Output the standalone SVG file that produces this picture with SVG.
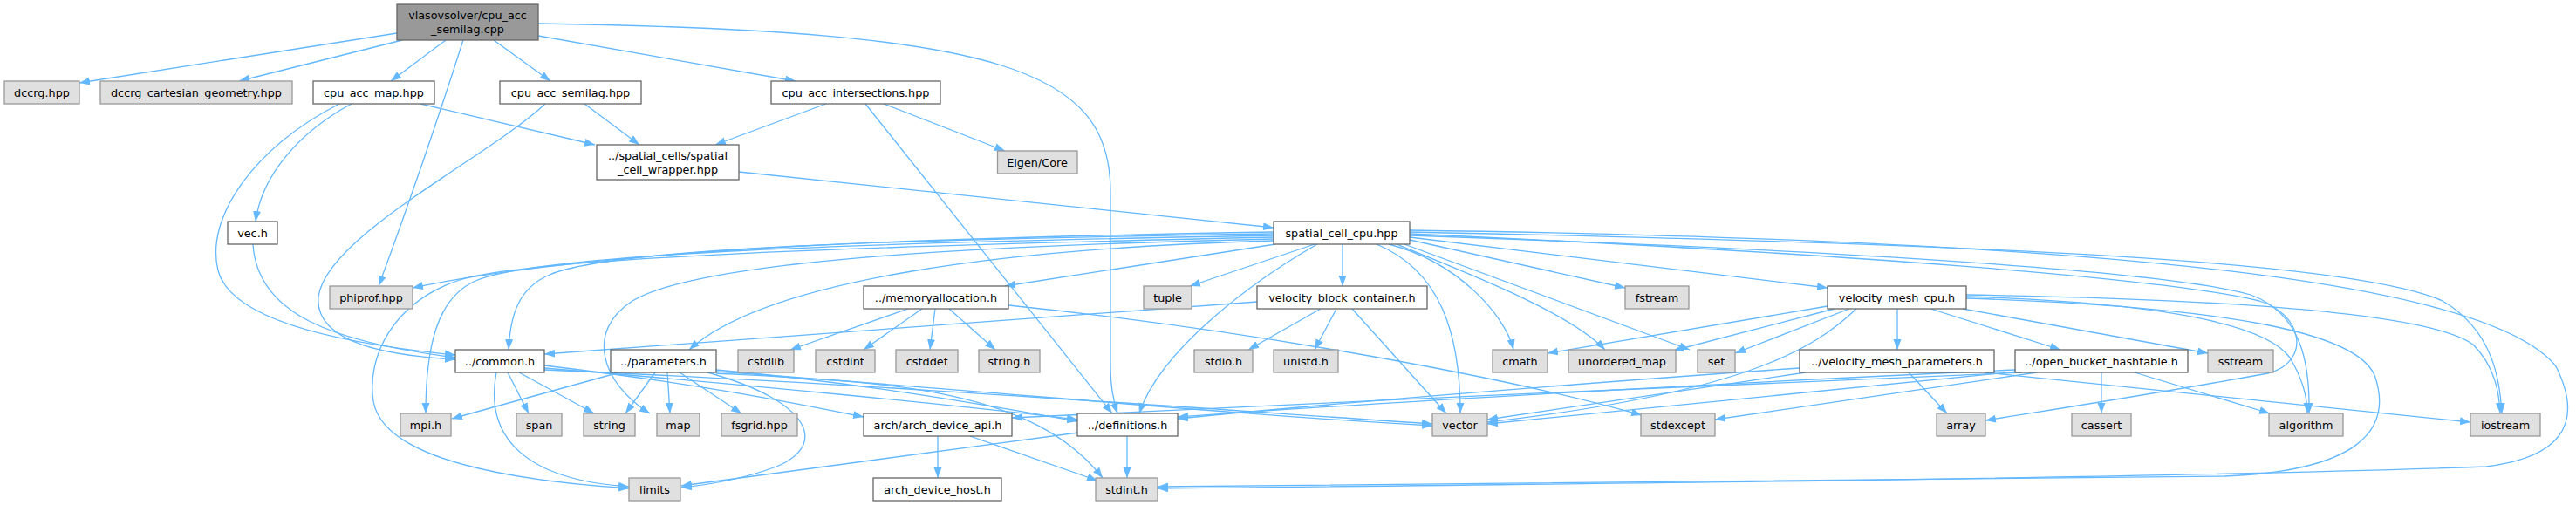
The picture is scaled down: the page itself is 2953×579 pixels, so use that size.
<svg xmlns="http://www.w3.org/2000/svg" width="2953" height="579" viewBox="0 0 2953 579">
<defs>
<marker id="ah" markerUnits="userSpaceOnUse" markerWidth="13" markerHeight="10" refX="12" refY="4.5" orient="auto">
<path d="M0,0 L12,4.5 L0,9 z" fill="#63b8ff"/>
</marker>
</defs>
<style>
.e{fill:none;stroke:#63b8ff;stroke-width:1.3;marker-end:url(#ah)}
.w rect{fill:#ffffff;stroke:#666666;stroke-width:1.3}
.g rect{fill:#e0e0e0;stroke:#999999;stroke-width:1.3}
.r rect{fill:#999999;stroke:#666666;stroke-width:1.3}
text{font-family:"DejaVu Sans",sans-serif;font-size:12.8px;fill:#000000;text-anchor:middle}
</style>
<rect width="2953" height="579" fill="#ffffff"/>
<g id="connectors">
<path class="e" d="M455,38 L91,95"/>
<path class="e" d="M461,46 L274,93"/>
<path class="e" d="M511,46 L448,93"/>
<path class="e" d="M531,46 Q485,190 434,328"/>
<path class="e" d="M566,46 L631,93"/>
<path class="e" d="M617,41 L912,93"/>
<path class="e" d="M617,27 C1150,35 1273,80 1273,220 L1273,420 Q1273,450 1281,474"/>
<path class="e" d="M482,119 L682,166"/>
<path class="e" d="M403,119 C345,150 300,200 293,254"/>
<path class="e" d="M389,119 C290,170 235,250 250,310 C265,370 400,395 522,407"/>
<path class="e" d="M670,119 L733,166"/>
<path class="e" d="M625,119 C560,180 375,270 365,340 C360,395 450,408 522,412"/>
<path class="e" d="M947,119 L820,166"/>
<path class="e" d="M1013,119 L1152,173"/>
<path class="e" d="M992,119 L1275,474"/>
<path class="e" d="M847,197 L1460,261"/>
<path class="e" d="M290,280 C295,360 380,392 522,410"/>
<path class="e" d="M1460,266 C1100,272 700,282 473,330"/>
<path class="e" d="M1460,268 C1000,275 700,285 630,315 C595,330 585,360 583,401"/>
<path class="e" d="M1460,270 C1000,278 620,290 545,322 C500,342 488,400 488,474"/>
<path class="e" d="M1460,272 C1000,282 620,295 530,320 C450,345 420,410 428,460 C440,530 600,552 721,560"/>
<path class="e" d="M1460,274 C1100,282 800,300 725,345 C670,380 690,440 745,474"/>
<path class="e" d="M1460,276 C1150,285 880,320 790,401"/>
<path class="e" d="M1462,280 L1152,328"/>
<path class="e" d="M1507,280 L1364,328"/>
<path class="e" d="M1539,280 L1539,328"/>
<path class="e" d="M1510,280 C1440,320 1330,400 1306,474"/>
<path class="e" d="M1578,280 C1650,310 1674,380 1674,474"/>
<path class="e" d="M1592,280 C1670,300 1725,360 1735,401"/>
<path class="e" d="M1601,280 C1700,320 1800,360 1840,401"/>
<path class="e" d="M1610,280 L1937,401"/>
<path class="e" d="M1616,275 L1863,330"/>
<path class="e" d="M1616,272 L2095,330"/>
<path class="e" d="M1616,270 C2200,290 2500,315 2580,338 C2640,360 2648,420 2647,474"/>
<path class="e" d="M1616,266 C2300,280 2700,300 2800,345 C2860,380 2866,440 2868,474"/>
<path class="e" d="M1616,264 C2400,275 2850,320 2930,420 C2965,490 2930,525 2850,535 C2500,548 1800,555 1327,560"/>
<path class="e" d="M1616,268 C2100,290 2480,318 2590,345 C2640,360 2650,415 2600,428 C2450,455 2350,470 2276,482"/>
<path class="e" d="M1441,346 L624,406"/>
<path class="e" d="M1514,354 L1431,401"/>
<path class="e" d="M1532,354 L1507,401"/>
<path class="e" d="M1550,354 L1658,474"/>
<path class="e" d="M1041,354 L906,401"/>
<path class="e" d="M1057,354 L990,401"/>
<path class="e" d="M1072,354 L1066,401"/>
<path class="e" d="M1088,354 L1141,401"/>
<path class="e" d="M1156,350 C1400,375 1700,425 1882,476"/>
<path class="e" d="M582,427 L606,474"/>
<path class="e" d="M595,427 L681,474"/>
<path class="e" d="M569,427 C555,500 600,550 721,558"/>
<path class="e" d="M624,419 C800,440 900,460 990,478"/>
<path class="e" d="M624,422 C850,440 1100,465 1235,481"/>
<path class="e" d="M624,424 C1000,440 1400,470 1642,486"/>
<path class="e" d="M710,427 L518,480"/>
<path class="e" d="M751,427 L717,474"/>
<path class="e" d="M765,427 L768,474"/>
<path class="e" d="M779,427 L850,474"/>
<path class="e" d="M811,427 C930,460 950,510 890,535 C850,550 810,556 781,559"/>
<path class="e" d="M821,424 C1000,440 1150,468 1235,483"/>
<path class="e" d="M821,426 C1100,445 1400,475 1642,488"/>
<path class="e" d="M821,428 C1000,438 1180,440 1264,548"/>
<path class="e" d="M1292,500 L1292,548"/>
<path class="e" d="M1236,496 L781,557"/>
<path class="e" d="M1075,500 L1075,548"/>
<path class="e" d="M1112,500 L1258,551"/>
<path class="e" d="M2175,354 L2175,401"/>
<path class="e" d="M2213,354 L2362,401"/>
<path class="e" d="M2250,354 L2531,405"/>
<path class="e" d="M2095,351 L1774,405"/>
<path class="e" d="M2103,354 L1918,402"/>
<path class="e" d="M2120,354 L1989,405"/>
<path class="e" d="M2128,354 C2080,400 2000,450 1705,484"/>
<path class="e" d="M2254,340 C2500,348 2600,375 2625,410 C2640,435 2645,455 2645,474"/>
<path class="e" d="M2254,338 C2500,342 2780,355 2835,395 C2860,420 2865,450 2866,474"/>
<path class="e" d="M2254,342 C2550,352 2700,380 2722,430 C2745,495 2700,540 2550,546 C2100,552 1700,556 1327,558"/>
<path class="e" d="M2188,427 L2232,474"/>
<path class="e" d="M2063,422 C1800,440 1500,465 1350,480"/>
<path class="e" d="M2070,427 L1705,481"/>
<path class="e" d="M2275,427 L2832,484"/>
<path class="e" d="M2409,427 L2409,474"/>
<path class="e" d="M2447,427 L2602,474"/>
<path class="e" d="M2310,424 C2000,438 1600,460 1350,478"/>
<path class="e" d="M2313,426 L1705,486"/>
<path class="e" d="M2318,427 C2000,440 1500,462 1160,479"/>
<path class="e" d="M2335,427 L1966,481"/>
</g>
<g id="n_root" class="r"><rect x="455" y="5" width="162" height="41"/><text x="536" y="21.5">vlasovsolver/cpu_acc</text><text x="536" y="38">_semilag.cpp</text></g>
<g id="n_dccrg" class="g"><rect x="5" y="93" width="86" height="26"/><text x="48" y="110.5">dccrg.hpp</text></g>
<g id="n_dccrg_cart" class="g"><rect x="115" y="93" width="220" height="26"/><text x="225" y="110.5">dccrg_cartesian_geometry.hpp</text></g>
<g id="n_cpu_acc_map" class="w"><rect x="359" y="93" width="139" height="26"/><text x="428.5" y="110.5">cpu_acc_map.hpp</text></g>
<g id="n_cpu_acc_semilag" class="w"><rect x="573" y="93" width="162" height="26"/><text x="654" y="110.5">cpu_acc_semilag.hpp</text></g>
<g id="n_cpu_acc_intersections" class="w"><rect x="884" y="93" width="194" height="26"/><text x="981" y="110.5">cpu_acc_intersections.hpp</text></g>
<g id="n_wrapper" class="w"><rect x="684" y="166" width="163" height="40"/><text x="765.5" y="182.5">../spatial_cells/spatial</text><text x="765.5" y="198.5">_cell_wrapper.hpp</text></g>
<g id="n_eigen" class="g"><rect x="1143.5" y="173" width="91.5" height="26"/><text x="1189" y="190.5">Eigen/Core</text></g>
<g id="n_vec" class="w"><rect x="261" y="254" width="57" height="26"/><text x="289.5" y="271.5">vec.h</text></g>
<g id="n_scc" class="w"><rect x="1460" y="254" width="156" height="26"/><text x="1538" y="271.5">spatial_cell_cpu.hpp</text></g>
<g id="n_phiprof" class="g"><rect x="378" y="328" width="95" height="26"/><text x="425.5" y="345.5">phiprof.hpp</text></g>
<g id="n_memalloc" class="w"><rect x="990" y="328" width="166" height="26"/><text x="1073" y="345.5">../memoryallocation.h</text></g>
<g id="n_tuple" class="g"><rect x="1311" y="328" width="55" height="26"/><text x="1338.5" y="345.5">tuple</text></g>
<g id="n_vbc" class="w"><rect x="1441" y="328" width="195" height="26"/><text x="1538.5" y="345.5">velocity_block_container.h</text></g>
<g id="n_fstream" class="g"><rect x="1863" y="328" width="73" height="26"/><text x="1899.5" y="345.5">fstream</text></g>
<g id="n_vmc" class="w"><rect x="2095" y="328" width="159" height="26"/><text x="2174.5" y="345.5">velocity_mesh_cpu.h</text></g>
<g id="n_common" class="w"><rect x="522" y="401" width="102" height="26"/><text x="573" y="418.5">../common.h</text></g>
<g id="n_parameters" class="w"><rect x="700" y="401" width="121" height="26"/><text x="760.5" y="418.5">../parameters.h</text></g>
<g id="n_cstdlib" class="g"><rect x="846" y="401" width="64" height="26"/><text x="878" y="418.5">cstdlib</text></g>
<g id="n_cstdint" class="g"><rect x="935" y="401" width="68" height="26"/><text x="969" y="418.5">cstdint</text></g>
<g id="n_cstddef" class="g"><rect x="1027" y="401" width="71" height="26"/><text x="1062.5" y="418.5">cstddef</text></g>
<g id="n_string_h" class="g"><rect x="1122" y="401" width="70" height="26"/><text x="1157" y="418.5">string.h</text></g>
<g id="n_stdio" class="g"><rect x="1369" y="401" width="67" height="26"/><text x="1402.5" y="418.5">stdio.h</text></g>
<g id="n_unistd" class="g"><rect x="1460" y="401" width="74" height="26"/><text x="1497" y="418.5">unistd.h</text></g>
<g id="n_cmath" class="g"><rect x="1711" y="401" width="63" height="26"/><text x="1742.5" y="418.5">cmath</text></g>
<g id="n_unordered_map" class="g"><rect x="1798" y="401" width="123" height="26"/><text x="1859.5" y="418.5">unordered_map</text></g>
<g id="n_set" class="g"><rect x="1946" y="401" width="43" height="26"/><text x="1967.5" y="418.5">set</text></g>
<g id="n_vmp" class="w"><rect x="2063" y="401" width="223" height="26"/><text x="2174.5" y="418.5">../velocity_mesh_parameters.h</text></g>
<g id="n_obh" class="w"><rect x="2310" y="401" width="198" height="26"/><text x="2409" y="418.5">../open_bucket_hashtable.h</text></g>
<g id="n_sstream" class="g"><rect x="2531" y="401" width="75" height="26"/><text x="2568.5" y="418.5">sstream</text></g>
<g id="n_mpi" class="g"><rect x="459" y="474" width="58" height="26"/><text x="488" y="491.5">mpi.h</text></g>
<g id="n_span" class="g"><rect x="592" y="474" width="52" height="26"/><text x="618" y="491.5">span</text></g>
<g id="n_string" class="g"><rect x="669" y="474" width="59" height="26"/><text x="698.5" y="491.5">string</text></g>
<g id="n_map" class="g"><rect x="753" y="474" width="49" height="26"/><text x="777.5" y="491.5">map</text></g>
<g id="n_fsgrid" class="g"><rect x="827" y="474" width="87" height="26"/><text x="870.5" y="491.5">fsgrid.hpp</text></g>
<g id="n_arch_api" class="w"><rect x="990" y="474" width="170" height="26"/><text x="1075" y="491.5">arch/arch_device_api.h</text></g>
<g id="n_definitions" class="w"><rect x="1235" y="474" width="115" height="26"/><text x="1292.5" y="491.5">../definitions.h</text></g>
<g id="n_vector" class="g"><rect x="1642" y="474" width="63" height="26"/><text x="1673.5" y="491.5">vector</text></g>
<g id="n_stdexcept" class="g"><rect x="1881" y="474" width="85" height="26"/><text x="1923.5" y="491.5">stdexcept</text></g>
<g id="n_array" class="g"><rect x="2220" y="474" width="56" height="26"/><text x="2248" y="491.5">array</text></g>
<g id="n_cassert" class="g"><rect x="2375" y="474" width="68" height="26"/><text x="2409" y="491.5">cassert</text></g>
<g id="n_algorithm" class="g"><rect x="2601" y="474" width="85" height="26"/><text x="2643.5" y="491.5">algorithm</text></g>
<g id="n_iostream" class="g"><rect x="2832" y="474" width="80" height="26"/><text x="2872" y="491.5">iostream</text></g>
<g id="n_limits" class="g"><rect x="721" y="548" width="59" height="26"/><text x="750.5" y="565.5">limits</text></g>
<g id="n_arch_host" class="w"><rect x="1001" y="548" width="147" height="26"/><text x="1074.5" y="565.5">arch_device_host.h</text></g>
<g id="n_stdint" class="g"><rect x="1256" y="548" width="71" height="26"/><text x="1291.5" y="565.5">stdint.h</text></g>
</svg>
